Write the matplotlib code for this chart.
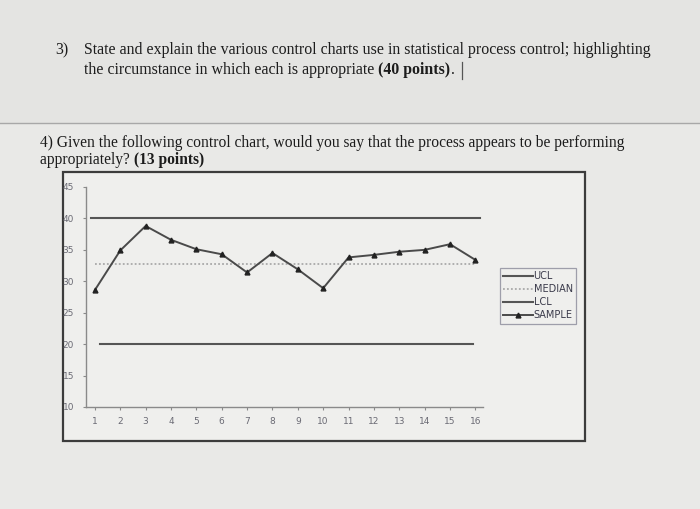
import matplotlib
matplotlib.use("Agg")
import matplotlib.pyplot as plt
from matplotlib.patches import Rectangle
from matplotlib.lines import Line2D

# ---- data ----
samples = list(range(1, 17))
sample_values = [28.6, 34.9, 38.8, 36.6, 35.1, 34.3, 31.4, 34.5, 31.9, 28.9,
                 33.8, 34.2, 34.7, 35.0, 35.9, 33.4]
ucl_value = 40
lcl_value = 20
median_value = 32.7
y_ticks = [10, 15, 20, 25, 30, 35, 40, 45]
legend_labels = ["UCL", "MEDIAN", "LCL", "SAMPLE"]

W, H = 700, 509
fig = plt.figure(figsize=(W / 100, H / 100), dpi=100)
fig.patch.set_facecolor("#e9e9e7")

def fx(px):
    return px / W

def fy(py):
    return 1 - py / H

# background bands and separator
fig.patches.append(Rectangle((0, fy(123)), 1, 1 - fy(123), transform=fig.transFigure,
                             facecolor="#e4e4e2", edgecolor="none", zorder=-2))
fig.add_artist(Line2D([0, 1], [fy(123), fy(123)], transform=fig.transFigure,
                      color="#a8a8a8", lw=1.0))

serif = "Liberation Serif"
tcol = "#1c1c1c"
renderer = fig.canvas.get_renderer()

def mixed(x, y, parts, fs):
    cx = fx(x)
    for txt, bold in parts:
        t = fig.text(cx, fy(y), txt, family=serif, fontsize=fs, color=tcol,
                     fontweight="bold" if bold else "normal", va="center", ha="left")
        bb = t.get_window_extent(renderer=renderer)
        cx = cx + bb.width / W
    return cx

mixed(55, 50, [("3)", False)], 11.4)
mixed(84, 50, [("State and explain the various control charts use in statistical process control; highlighting", False)], 11.4)
end = mixed(84, 70, [("the circumstance in which each is appropriate ", False), ("(40 points)", True), (".", False)], 11.4)
fig.add_artist(Line2D([end + fx(8), end + fx(8)], [fy(62), fy(79)], transform=fig.transFigure,
                      color="#555555", lw=0.9))
mixed(40, 143, [("4) Given the following control chart, would you say that the process appears to be performing", False)], 11.2)
mixed(40, 160, [("appropriately? ", False), ("(13 points)", True)], 11.2)

# chart box
fig.patches.append(Rectangle((fx(63), fy(441)), fx(585) - fx(63), fy(172) - fy(441),
                             transform=fig.transFigure, facecolor="#efefed",
                             edgecolor="#3c3c3c", lw=1.6, zorder=-1))

# axes
ax = fig.add_axes([fx(86), fy(407), fx(483) - fx(86), fy(187) - fy(407)])
ax.set_zorder(3)
ax.set_facecolor("none")
ax.set_xlim(0.65, 16.3)
ax.set_ylim(10, 45)

ax.plot([0.85, 16.2], [ucl_value, ucl_value], color="#555555", lw=1.5, label=legend_labels[0])
ax.plot([1.0, 16.0], [median_value, median_value], color="#a9a9a9", lw=1.3, ls=(0, (1, 1.2)),
        label=legend_labels[1])
ax.plot([1.2, 15.9], [lcl_value, lcl_value], color="#555555", lw=1.5, label=legend_labels[2])
ax.plot(samples, sample_values, color="#4a4a4a", lw=1.4, marker="^", markersize=3.5,
        markerfacecolor="#222222", markeredgecolor="#222222", label=legend_labels[3])

for s in ["top", "right"]:
    ax.spines[s].set_visible(False)
for s in ["left", "bottom"]:
    ax.spines[s].set_color("#8a8a8a")
    ax.spines[s].set_linewidth(1.0)

ax.set_yticks(y_ticks)
ax.set_yticklabels([str(v) for v in y_ticks])
ax.set_xticks(samples)
ax.set_xticklabels([str(v) for v in samples])
ax.tick_params(axis="both", colors="#8a8a8a", labelcolor="#6a6a74", labelsize=6.5,
               length=2.5, width=0.8)
ax.tick_params(axis="x", pad=5)
ax.tick_params(axis="y", pad=6)

leg = ax.legend(loc="upper left", bbox_to_anchor=(fx(500), fy(268)),
                bbox_transform=fig.transFigure, fontsize=7, frameon=True,
                fancybox=False, handlelength=3.0, handletextpad=0.1,
                borderpad=0.35, labelspacing=0.3, borderaxespad=0)
leg.get_frame().set_edgecolor("#8a8a9a")
leg.get_frame().set_facecolor("#efefed")
leg.get_frame().set_linewidth(0.9)
for t in leg.get_texts():
    t.set_color("#3a3a4a")

fig.savefig("out.png", dpi=100, facecolor=fig.get_facecolor())
